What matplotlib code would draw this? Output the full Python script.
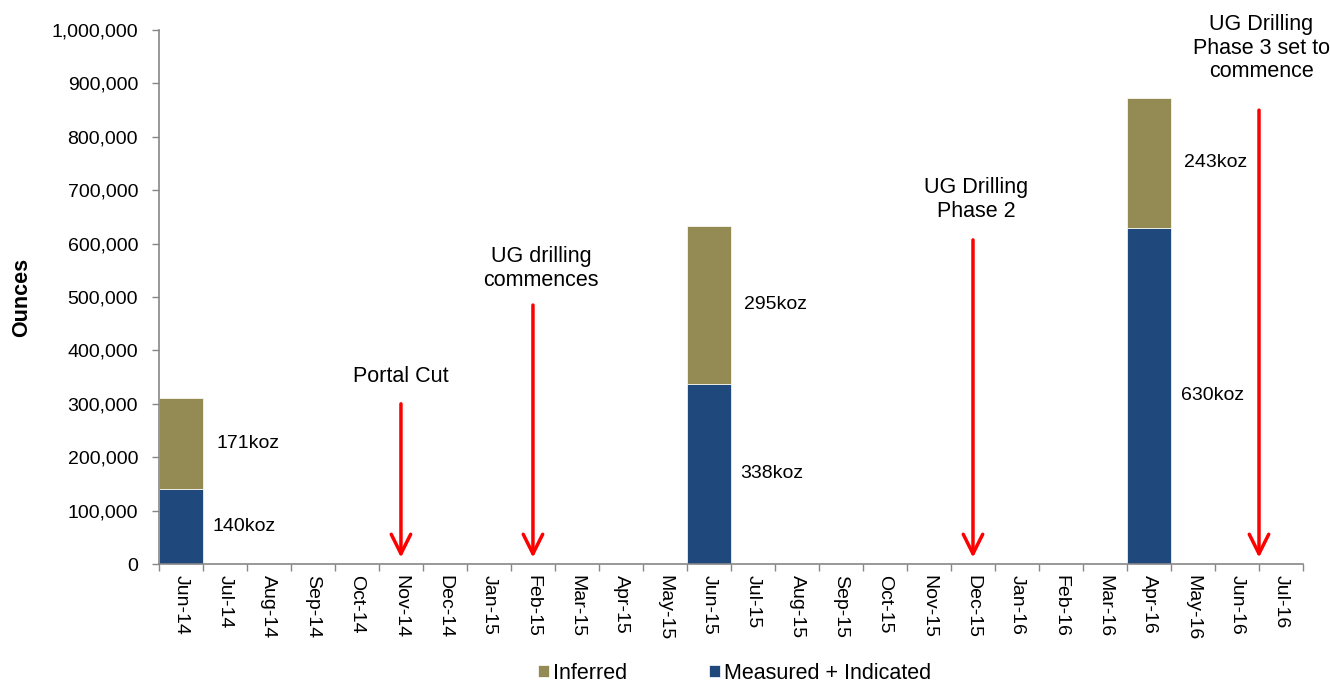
import matplotlib
matplotlib.use("Agg")
import matplotlib.pyplot as plt
import numpy as np

plt.rcParams['font.family'] = ['Liberation Sans', 'DejaVu Sans']

months = ["Jun-14", "Jul-14", "Aug-14", "Sep-14", "Oct-14", "Nov-14", "Dec-14", "Jan-15",
          "Feb-15", "Mar-15", "Apr-15", "May-15", "Jun-15", "Jul-15", "Aug-15", "Sep-15",
          "Oct-15", "Nov-15", "Dec-15", "Jan-16", "Feb-16", "Mar-16", "Apr-16", "May-16",
          "Jun-16", "Jul-16"]
measured_indicated = [140000, 0, 0, 0, 0, 0, 0, 0, 0, 0, 0, 0, 338000, 0, 0, 0,
                      0, 0, 0, 0, 0, 0, 630000, 0, 0, 0]
inferred = [171000, 0, 0, 0, 0, 0, 0, 0, 0, 0, 0, 0, 295000, 0, 0, 0,
            0, 0, 0, 0, 0, 0, 243000, 0, 0, 0]

# milestone arrows: label, x (category index), arrow top, arrow tip
milestones = ["Portal Cut", "UG drilling\ncommences", "UG Drilling\nPhase 2",
              "UG Drilling\nPhase 3 set to\ncommence"]
milestone_x = [5, 8, 18, 24.5]
milestone_top = [300000, 485000, 607000, 850000]
milestone_tip = [12000, 12000, 12000, 12000]
milestone_text_x = [5, 8.18, 18.07, 24.55]
milestone_text_y = [352000, 554000, 682000, 966000]

blue = "#1F497D"
olive = "#948A54"
grey = "#868686"

fig = plt.figure(figsize=(13.3, 6.83), dpi=100)
ax = fig.add_axes([0.1195, 0.1742, 0.8602, 0.7818])

x = np.arange(len(months))
mi = np.array(measured_indicated)
inf = np.array(inferred)
ax.bar(x, mi, width=1.0, color=blue, edgecolor="white", linewidth=0.5, label="Measured + Indicated")
ax.bar(x, inf, width=1.0, bottom=mi, color=olive, edgecolor="white", linewidth=0.5, label="Inferred")

for i in range(len(months)):
    if mi[i] > 0:
        ax.text(i + 0.72, mi[i] / 2, f"{mi[i] // 1000}koz", fontsize=14, va="center", ha="left")
    if inf[i] > 0:
        ax.text(i + 0.8, mi[i] + inf[i] / 2, f"{inf[i] // 1000}koz", fontsize=14, va="center", ha="left")

for lab, mx, top, tip, tx, ty in zip(milestones, milestone_x, milestone_top, milestone_tip,
                                     milestone_text_x, milestone_text_y):
    ax.annotate("", xy=(mx, tip), xytext=(mx, top),
                arrowprops=dict(arrowstyle="->,head_length=0.7,head_width=0.35",
                                color="red", lw=2.5, mutation_scale=20,
                                shrinkA=0, shrinkB=0))
    ax.text(tx, ty, lab, fontsize=15.5, ha="center", va="center", linespacing=1.17, clip_on=False)

ax.set_xlim(-0.5, len(months) - 0.5)
ax.set_ylim(0, 1000000)
ax.set_yticks(np.arange(0, 1000001, 100000))
ax.set_yticklabels([f"{v:,}" for v in range(0, 1000001, 100000)])

ax.set_xticks(x)
ax.set_xticklabels(months, rotation=-90, ha="center", va="top")
ax.set_xticks(np.arange(-0.5, len(months), 1), minor=True)
ax.tick_params(axis="x", which="major", length=0, pad=8, labelsize=14)
ax.tick_params(axis="x", which="minor", length=5, color=grey, width=1)
ax.tick_params(axis="y", length=5, color=grey, width=1, pad=10, labelsize=14)

for s in ["top", "right"]:
    ax.spines[s].set_visible(False)
for s in ["left", "bottom"]:
    ax.spines[s].set_color(grey)
    ax.spines[s].set_linewidth(1.2)

ax.set_ylabel("Ounces", fontsize=15.5, fontweight="bold")
ax.yaxis.set_label_coords(-0.111, 0.5)

handles, labels = ax.get_legend_handles_labels()
fig.legend(handles[::-1], labels[::-1], loc="center", bbox_to_anchor=(0.5526, 0.014),
           ncol=2, frameon=False, fontsize=15.5, handlelength=0.5, handleheight=0.5,
           handletextpad=0.2, columnspacing=3.8, borderpad=0.1)

fig.savefig("out.png", dpi=100)
